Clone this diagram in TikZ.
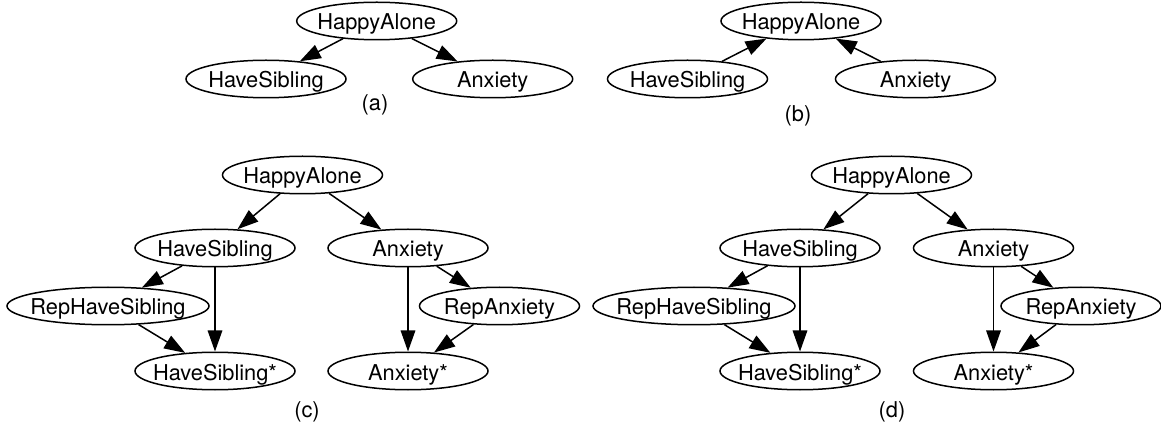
\documentclass[tikz,border=0pt]{standalone}
\usepackage{fontspec}
\setmainfont{TeX Gyre Heros}
\usetikzlibrary{arrows.meta,shapes.geometric}
\newcommand\elltext[1]{\makebox[0pt]{#1}}
\begin{document}
\begin{tikzpicture}[x=1pt,y=-1pt,
  ell/.style={draw, line width=1.5pt, ellipse, inner sep=0pt,
    minimum width=160pt, minimum height=37.5pt,
    text height=18pt, text depth=0pt,
    font=\fontsize{21.8pt}{26pt}\selectfont},
  wide/.style={minimum width=202pt},
  captxt/.style={inner sep=0pt, font=\fontsize{21.8pt}{26pt}\selectfont},
  edge/.style={line width=1.5pt, -{Triangle[length=21pt,width=14.5pt]}}]
\useasboundingbox (0,0) rectangle (1161,427);

% (a)
\node[ell] (a1) at (376.7,21) {\elltext{HappyAlone}};
\node[ell] (a2) at (266,79) {\elltext{HaveSibling}};
\node[ell] (a3) at (492.7,79) {\elltext{Anxiety}};
\node[captxt] (acap) at (375,105) {(a)};
\draw[edge] (a1) -- (a2);
\draw[edge] (a1) -- (a3);

% (b)
\node[ell] (b1) at (801,21) {\elltext{HappyAlone}};
\node[ell] (b2) at (687.5,79) {\elltext{HaveSibling}};
\node[ell] (b3) at (915.5,79) {\elltext{Anxiety}};
\node[captxt] (bcap) at (798,116) {(b)};
\draw[edge] (b2) -- (b1);
\draw[edge] (b3) -- (b1);

% (c)
\node[ell] (c1) at (302.5,175) {\elltext{HappyAlone}};
\node[ell] (c2) at (215,248) {\elltext{HaveSibling}};
\node[ell] (c3) at (408,248) {\elltext{Anxiety}};
\node[ell,wide] (c4) at (108,306) {\elltext{RepHaveSibling}};
\node[ell] (c5) at (499.5,306) {\elltext{RepAnxiety}};
\node[ell] (c6) at (215,371) {\elltext{HaveSibling*}};
\node[ell] (c7) at (408,371) {\elltext{Anxiety*}};
\node[captxt] (ccap) at (307,412) {(c)};
\draw[edge] (c1) -- (c2);
\draw[edge] (c1) -- (c3);
\draw[edge] (c2) -- (c4);
\draw[edge] (c2) -- (c6);
\draw[edge] (c4) -- (c6);
\draw[edge] (c3) -- (c7);
\draw[edge] (c3) -- (c5);
\draw[edge] (c5) -- (c7);

% (d)
\node[ell] (d1) at (891.5,175) {\elltext{HappyAlone}};
\node[ell] (d2) at (800,248) {\elltext{HaveSibling}};
\node[ell] (d3) at (993.5,248) {\elltext{Anxiety}};
\node[ell,wide] (d4) at (694,306) {\elltext{RepHaveSibling}};
\node[ell] (d5) at (1081,306) {\elltext{RepAnxiety}};
\node[ell] (d6) at (800,371) {\elltext{HaveSibling*}};
\node[ell] (d7) at (993.5,371) {\elltext{Anxiety*}};
\node[captxt] (dcap) at (892,412) {(d)};
\draw[edge] (d1) -- (d2);
\draw[edge] (d1) -- (d3);
\draw[edge] (d2) -- (d4);
\draw[edge] (d2) -- (d6);
\draw[edge] (d4) -- (d6);
\draw[edge] (d3) -- (d7);
\draw[edge] (d3) -- (d5);
\draw[edge] (d5) -- (d7);
\end{tikzpicture}
\end{document}
